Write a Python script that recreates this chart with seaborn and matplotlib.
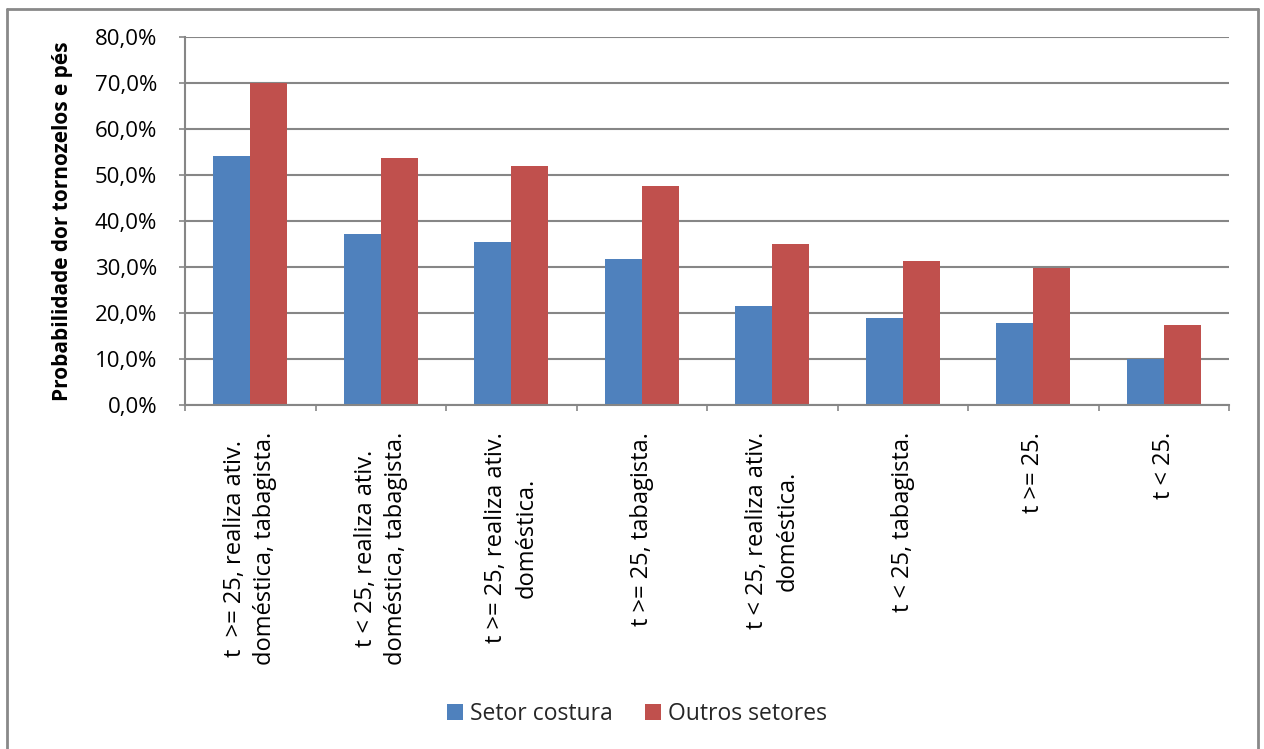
import matplotlib
matplotlib.use("Agg")
import matplotlib.pyplot as plt
from matplotlib.lines import Line2D
from matplotlib.patches import Patch
import seaborn as sns
import pandas as pd
import numpy as np

categories = [
    "t  >= 25, realiza ativ.\ndoméstica, tabagista.",
    "t < 25, realiza ativ.\ndoméstica, tabagista.",
    "t >= 25, realiza ativ.\ndoméstica.",
    "t >= 25, tabagista.",
    "t < 25, realiza ativ.\ndoméstica.",
    "t < 25, tabagista.",
    "t >= 25.",
    "t < 25.",
]
setor_costura = [54.2, 37.2, 35.5, 31.7, 21.6, 18.9, 17.8, 9.9]
outros_setores = [69.9, 53.7, 51.9, 47.7, 35.1, 31.3, 29.8, 17.5]
series_names = ["Setor costura", "Outros setores"]
y_ticks = [0, 10, 20, 30, 40, 50, 60, 70, 80]
y_tick_labels = ["0,0%", "10,0%", "20,0%", "30,0%", "40,0%", "50,0%", "60,0%", "70,0%", "80,0%"]
y_label = "Probabilidade dor tornozelos e pés"

colors = ["#4F81BD", "#C0504D"]
grid_col = "#868686"

df = pd.DataFrame({
    "cat": categories * 2,
    "val": setor_costura + outros_setores,
    "serie": [series_names[0]] * len(categories) + [series_names[1]] * len(categories),
})

sns.set_theme(style="white")
plt.rcParams["font.family"] = ["Open Sans", "DejaVu Sans"]

W, H = 1264, 749
fig = plt.figure(figsize=(W / 100, H / 100), dpi=100)
ax = fig.add_axes([185 / W, 1 - 405 / H, (1229 - 185) / W, (405 - 37) / H])

sns.barplot(data=df, x="cat", y="val", hue="serie", order=categories,
            hue_order=series_names, palette=colors, saturation=1,
            width=0.57, linewidth=0, ax=ax, legend=False)

ax.set_xlim(-0.5, len(categories) - 0.5)
ax.set_ylim(0, 80)
ax.set_axisbelow(True)
ax.yaxis.grid(True, color=grid_col, linewidth=1.5)
ax.xaxis.grid(False)

ax.set_yticks(y_ticks)
ax.set_yticklabels(y_tick_labels, fontsize=16, color="#000000")
ax.tick_params(axis="y", which="major", length=4.5, width=1.2, color=grid_col,
               direction="out", pad=15.5, left=True)

ax.set_xticks(range(len(categories)))
ax.set_xticklabels(categories, rotation=90, fontsize=17, color="#000000",
                   ha="center", va="top", multialignment="center", linespacing=1.35)
ax.tick_params(axis="x", which="major", length=0, pad=19.5)
ax.set_xticks(np.arange(-0.5, len(categories) + 0.5, 1), minor=True)
ax.tick_params(axis="x", which="minor", length=4.5, width=1.2, color=grid_col,
               direction="out", bottom=True)

for s in ["top", "right"]:
    ax.spines[s].set_visible(False)
for s in ["left", "bottom"]:
    ax.spines[s].set_color(grid_col)
    ax.spines[s].set_linewidth(1.5)

ax.set_xlabel("")
ax.set_ylabel(y_label, fontsize=15, fontweight="bold", color="#000000")
ax.yaxis.set_label_coords((73 - 185) / (1229 - 185), 0.5)

handles = [Patch(facecolor=c, edgecolor="none") for c in colors]
fig.legend(handles, series_names, loc="center", bbox_to_anchor=(637 / W, 1 - 714 / H),
           ncol=2, frameon=False, fontsize=16.5, handlelength=0.68, handleheight=0.68,
           handletextpad=0.3, columnspacing=1.45)

# outer chart frame
fx0, fx1, fy1 = 7 / W, 1258 / W, 1 - 9 / H
for xs, ys in [([fx0, fx0], [0, fy1]), ([fx0, fx1], [fy1, fy1]), ([fx1, fx1], [fy1, 0])]:
    fig.add_artist(Line2D(xs, ys, transform=fig.transFigure, color="#898989", linewidth=2))

fig.savefig("out.png", dpi=100, facecolor="white")
